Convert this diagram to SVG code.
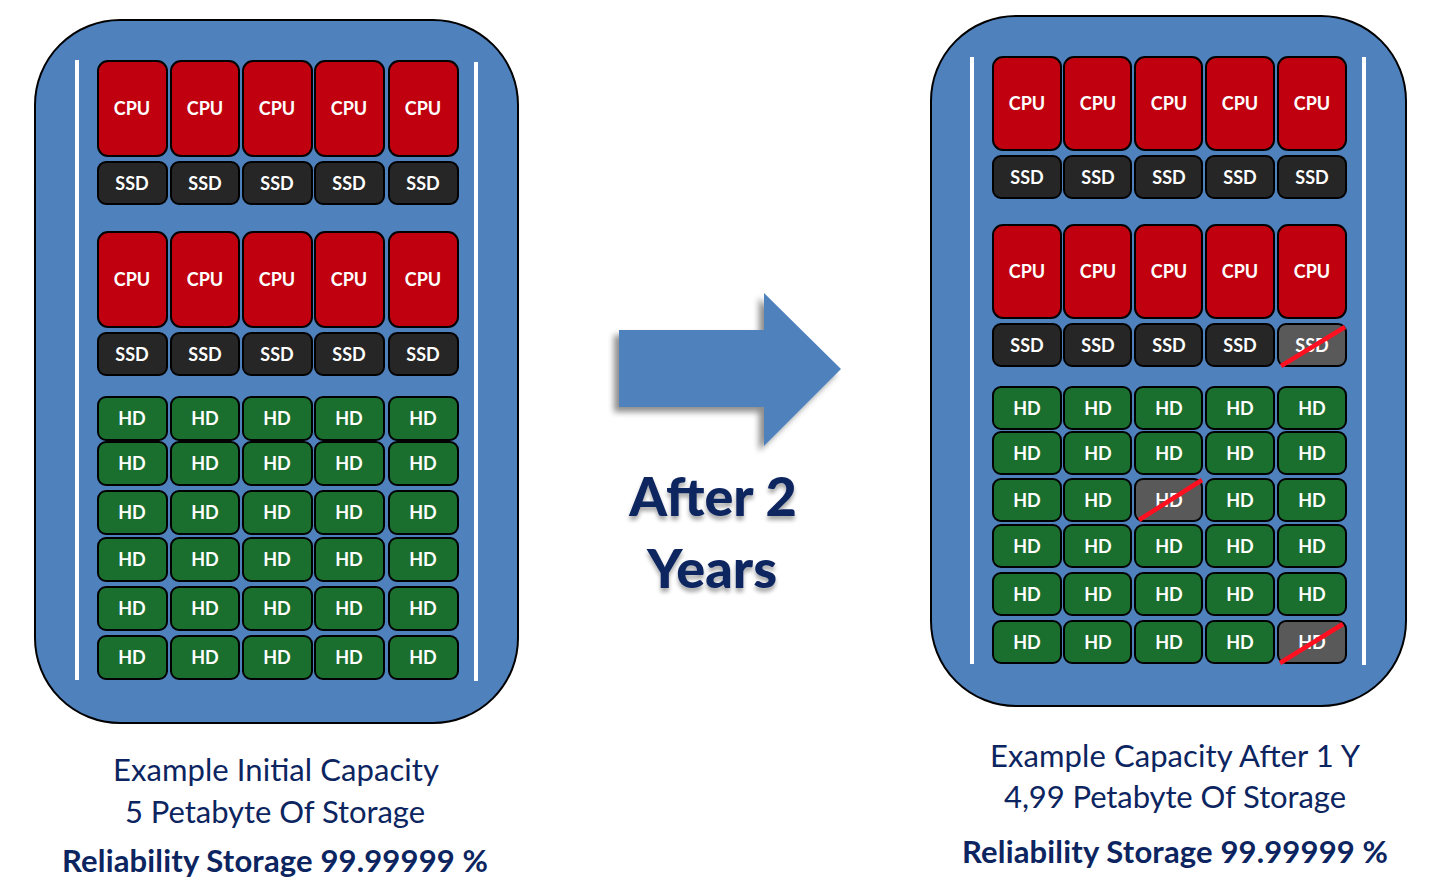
<svg xmlns="http://www.w3.org/2000/svg" width="1440" height="888" viewBox="0 0 1440 888">
<defs>
<style>
.panel{fill:#4F81BD;stroke:#000;stroke-width:2}
.rail{fill:#fff}
.cpu{fill:#C0000F;stroke:#000;stroke-width:2}
.ssd{fill:#262626;stroke:#000;stroke-width:2}
.hd{fill:#1B6F2E;stroke:#000;stroke-width:2}
.dead{fill:#595959;stroke:#000;stroke-width:2}
.x{stroke:#FF1020;stroke-width:4.5;stroke-linecap:butt}
.t{font-family:Lato,"Noto Sans",sans-serif;font-size:18px;font-weight:bold;fill:#fff;text-anchor:middle;dominant-baseline:central}
.cap{font-family:Lato,"Noto Sans",sans-serif;font-size:31px;fill:#0C2560;text-anchor:middle}
.capb{font-family:Lato,"Noto Sans",sans-serif;font-size:31px;font-weight:bold;fill:#0C2560;text-anchor:middle}
.big{font-family:Lato,"Noto Sans",sans-serif;font-size:54px;font-weight:900;fill:#0C2560;text-anchor:middle}
</style>
<filter id="sh" x="-20%" y="-20%" width="140%" height="140%">
<feGaussianBlur in="SourceAlpha" stdDeviation="3"/>
<feOffset dx="-5" dy="5" result="b"/>
<feComponentTransfer><feFuncA type="linear" slope="0.45"/></feComponentTransfer>
<feMerge><feMergeNode/><feMergeNode in="SourceGraphic"/></feMerge>
</filter>
<filter id="tsh" x="-20%" y="-20%" width="140%" height="150%">
<feGaussianBlur in="SourceAlpha" stdDeviation="2"/>
<feOffset dx="0" dy="4" result="b"/>
<feComponentTransfer><feFuncA type="linear" slope="0.35"/></feComponentTransfer>
<feMerge><feMergeNode/><feMergeNode in="SourceGraphic"/></feMerge>
</filter>
</defs>
<rect width="1440" height="888" fill="#fff"/>

<g id="left-rack">
<rect class="panel" x="35" y="20" width="483" height="703" rx="85" ry="85"/>
<rect class="rail" x="75" y="60" width="4" height="620"/>
<rect class="rail" x="474" y="62" width="4" height="619"/>
<g id="left-cpu1">
<rect class="cpu" x="98" y="61" width="69" height="95" rx="10"/><text class="t" x="132" y="108">CPU</text>
<rect class="cpu" x="171" y="61" width="68" height="95" rx="10"/><text class="t" x="205" y="108">CPU</text>
<rect class="cpu" x="243" y="61" width="69" height="95" rx="10"/><text class="t" x="277" y="108">CPU</text>
<rect class="cpu" x="315" y="61" width="69" height="95" rx="10"/><text class="t" x="349" y="108">CPU</text>
<rect class="cpu" x="389" y="61" width="69" height="95" rx="10"/><text class="t" x="423" y="108">CPU</text>
</g>
<g id="left-ssd1">
<rect class="ssd" x="98" y="162" width="69" height="42" rx="8"/><text class="t" x="132" y="183">SSD</text>
<rect class="ssd" x="171" y="162" width="68" height="42" rx="8"/><text class="t" x="205" y="183">SSD</text>
<rect class="ssd" x="243" y="162" width="69" height="42" rx="8"/><text class="t" x="277" y="183">SSD</text>
<rect class="ssd" x="315" y="162" width="69" height="42" rx="8"/><text class="t" x="349" y="183">SSD</text>
<rect class="ssd" x="389" y="162" width="69" height="42" rx="8"/><text class="t" x="423" y="183">SSD</text>
</g>
<g id="left-cpu2">
<rect class="cpu" x="98" y="232" width="69" height="95" rx="10"/><text class="t" x="132" y="279">CPU</text>
<rect class="cpu" x="171" y="232" width="68" height="95" rx="10"/><text class="t" x="205" y="279">CPU</text>
<rect class="cpu" x="243" y="232" width="69" height="95" rx="10"/><text class="t" x="277" y="279">CPU</text>
<rect class="cpu" x="315" y="232" width="69" height="95" rx="10"/><text class="t" x="349" y="279">CPU</text>
<rect class="cpu" x="389" y="232" width="69" height="95" rx="10"/><text class="t" x="423" y="279">CPU</text>
</g>
<g id="left-ssd2">
<rect class="ssd" x="98" y="333" width="69" height="42" rx="8"/><text class="t" x="132" y="354">SSD</text>
<rect class="ssd" x="171" y="333" width="68" height="42" rx="8"/><text class="t" x="205" y="354">SSD</text>
<rect class="ssd" x="243" y="333" width="69" height="42" rx="8"/><text class="t" x="277" y="354">SSD</text>
<rect class="ssd" x="315" y="333" width="69" height="42" rx="8"/><text class="t" x="349" y="354">SSD</text>
<rect class="ssd" x="389" y="333" width="69" height="42" rx="8"/><text class="t" x="423" y="354">SSD</text>
</g>
<g id="left-hd">
<rect class="hd" x="98" y="397" width="69" height="43" rx="8"/><text class="t" x="132" y="418">HD</text>
<rect class="hd" x="171" y="397" width="68" height="43" rx="8"/><text class="t" x="205" y="418">HD</text>
<rect class="hd" x="243" y="397" width="69" height="43" rx="8"/><text class="t" x="277" y="418">HD</text>
<rect class="hd" x="315" y="397" width="69" height="43" rx="8"/><text class="t" x="349" y="418">HD</text>
<rect class="hd" x="389" y="397" width="69" height="43" rx="8"/><text class="t" x="423" y="418">HD</text>

<rect class="hd" x="98" y="442" width="69" height="43" rx="8"/><text class="t" x="132" y="463">HD</text>
<rect class="hd" x="171" y="442" width="68" height="43" rx="8"/><text class="t" x="205" y="463">HD</text>
<rect class="hd" x="243" y="442" width="69" height="43" rx="8"/><text class="t" x="277" y="463">HD</text>
<rect class="hd" x="315" y="442" width="69" height="43" rx="8"/><text class="t" x="349" y="463">HD</text>
<rect class="hd" x="389" y="442" width="69" height="43" rx="8"/><text class="t" x="423" y="463">HD</text>

<rect class="hd" x="98" y="491" width="69" height="43" rx="8"/><text class="t" x="132" y="512">HD</text>
<rect class="hd" x="171" y="491" width="68" height="43" rx="8"/><text class="t" x="205" y="512">HD</text>
<rect class="hd" x="243" y="491" width="69" height="43" rx="8"/><text class="t" x="277" y="512">HD</text>
<rect class="hd" x="315" y="491" width="69" height="43" rx="8"/><text class="t" x="349" y="512">HD</text>
<rect class="hd" x="389" y="491" width="69" height="43" rx="8"/><text class="t" x="423" y="512">HD</text>

<rect class="hd" x="98" y="538" width="69" height="43" rx="8"/><text class="t" x="132" y="559">HD</text>
<rect class="hd" x="171" y="538" width="68" height="43" rx="8"/><text class="t" x="205" y="559">HD</text>
<rect class="hd" x="243" y="538" width="69" height="43" rx="8"/><text class="t" x="277" y="559">HD</text>
<rect class="hd" x="315" y="538" width="69" height="43" rx="8"/><text class="t" x="349" y="559">HD</text>
<rect class="hd" x="389" y="538" width="69" height="43" rx="8"/><text class="t" x="423" y="559">HD</text>

<rect class="hd" x="98" y="587" width="69" height="43" rx="8"/><text class="t" x="132" y="608">HD</text>
<rect class="hd" x="171" y="587" width="68" height="43" rx="8"/><text class="t" x="205" y="608">HD</text>
<rect class="hd" x="243" y="587" width="69" height="43" rx="8"/><text class="t" x="277" y="608">HD</text>
<rect class="hd" x="315" y="587" width="69" height="43" rx="8"/><text class="t" x="349" y="608">HD</text>
<rect class="hd" x="389" y="587" width="69" height="43" rx="8"/><text class="t" x="423" y="608">HD</text>

<rect class="hd" x="98" y="636" width="69" height="43" rx="8"/><text class="t" x="132" y="657">HD</text>
<rect class="hd" x="171" y="636" width="68" height="43" rx="8"/><text class="t" x="205" y="657">HD</text>
<rect class="hd" x="243" y="636" width="69" height="43" rx="8"/><text class="t" x="277" y="657">HD</text>
<rect class="hd" x="315" y="636" width="69" height="43" rx="8"/><text class="t" x="349" y="657">HD</text>
<rect class="hd" x="389" y="636" width="69" height="43" rx="8"/><text class="t" x="423" y="657">HD</text>
</g>
</g>

<g id="right-rack">
<rect class="panel" x="931" y="16" width="475" height="690" rx="85" ry="85"/>
<rect class="rail" x="970" y="57" width="4" height="607"/>
<rect class="rail" x="1362" y="57" width="4" height="608"/>
<g id="right-cpu1">
<rect class="cpu" x="993" y="57" width="68" height="93" rx="10"/><text class="t" x="1027" y="103">CPU</text>
<rect class="cpu" x="1064" y="57" width="67" height="93" rx="10"/><text class="t" x="1098" y="103">CPU</text>
<rect class="cpu" x="1135" y="57" width="67" height="93" rx="10"/><text class="t" x="1169" y="103">CPU</text>
<rect class="cpu" x="1206" y="57" width="68" height="93" rx="10"/><text class="t" x="1240" y="103">CPU</text>
<rect class="cpu" x="1278" y="57" width="68" height="93" rx="10"/><text class="t" x="1312" y="103">CPU</text>
</g>
<g id="right-ssd1">
<rect class="ssd" x="993" y="156" width="68" height="42" rx="8"/><text class="t" x="1027" y="177">SSD</text>
<rect class="ssd" x="1064" y="156" width="67" height="42" rx="8"/><text class="t" x="1098" y="177">SSD</text>
<rect class="ssd" x="1135" y="156" width="67" height="42" rx="8"/><text class="t" x="1169" y="177">SSD</text>
<rect class="ssd" x="1206" y="156" width="68" height="42" rx="8"/><text class="t" x="1240" y="177">SSD</text>
<rect class="ssd" x="1278" y="156" width="68" height="42" rx="8"/><text class="t" x="1312" y="177">SSD</text>
</g>
<g id="right-cpu2">
<rect class="cpu" x="993" y="225" width="68" height="93" rx="10"/><text class="t" x="1027" y="271">CPU</text>
<rect class="cpu" x="1064" y="225" width="67" height="93" rx="10"/><text class="t" x="1098" y="271">CPU</text>
<rect class="cpu" x="1135" y="225" width="67" height="93" rx="10"/><text class="t" x="1169" y="271">CPU</text>
<rect class="cpu" x="1206" y="225" width="68" height="93" rx="10"/><text class="t" x="1240" y="271">CPU</text>
<rect class="cpu" x="1278" y="225" width="68" height="93" rx="10"/><text class="t" x="1312" y="271">CPU</text>
</g>
<g id="right-ssd2">
<rect class="ssd" x="993" y="324" width="68" height="42" rx="8"/><text class="t" x="1027" y="345">SSD</text>
<rect class="ssd" x="1064" y="324" width="67" height="42" rx="8"/><text class="t" x="1098" y="345">SSD</text>
<rect class="ssd" x="1135" y="324" width="67" height="42" rx="8"/><text class="t" x="1169" y="345">SSD</text>
<rect class="ssd" x="1206" y="324" width="68" height="42" rx="8"/><text class="t" x="1240" y="345">SSD</text>
<rect class="dead" x="1278" y="324" width="68" height="42" rx="8"/><text class="t" x="1312" y="345">SSD</text>
<line class="x" x1="1281" y1="366" x2="1345" y2="327"/>
</g>
<g id="right-hd">
<rect class="hd" x="993" y="387" width="68" height="42" rx="8"/><text class="t" x="1027" y="408">HD</text>
<rect class="hd" x="1064" y="387" width="67" height="42" rx="8"/><text class="t" x="1098" y="408">HD</text>
<rect class="hd" x="1135" y="387" width="67" height="42" rx="8"/><text class="t" x="1169" y="408">HD</text>
<rect class="hd" x="1206" y="387" width="68" height="42" rx="8"/><text class="t" x="1240" y="408">HD</text>
<rect class="hd" x="1278" y="387" width="68" height="42" rx="8"/><text class="t" x="1312" y="408">HD</text>

<rect class="hd" x="993" y="432" width="68" height="42" rx="8"/><text class="t" x="1027" y="453">HD</text>
<rect class="hd" x="1064" y="432" width="67" height="42" rx="8"/><text class="t" x="1098" y="453">HD</text>
<rect class="hd" x="1135" y="432" width="67" height="42" rx="8"/><text class="t" x="1169" y="453">HD</text>
<rect class="hd" x="1206" y="432" width="68" height="42" rx="8"/><text class="t" x="1240" y="453">HD</text>
<rect class="hd" x="1278" y="432" width="68" height="42" rx="8"/><text class="t" x="1312" y="453">HD</text>

<rect class="hd" x="993" y="479" width="68" height="42" rx="8"/><text class="t" x="1027" y="500">HD</text>
<rect class="hd" x="1064" y="479" width="67" height="42" rx="8"/><text class="t" x="1098" y="500">HD</text>
<rect class="dead" x="1135" y="479" width="67" height="42" rx="8"/><text class="t" x="1169" y="500">HD</text>
<line class="x" x1="1139" y1="520" x2="1202" y2="480"/>
<rect class="hd" x="1206" y="479" width="68" height="42" rx="8"/><text class="t" x="1240" y="500">HD</text>
<rect class="hd" x="1278" y="479" width="68" height="42" rx="8"/><text class="t" x="1312" y="500">HD</text>

<rect class="hd" x="993" y="525" width="68" height="42" rx="8"/><text class="t" x="1027" y="546">HD</text>
<rect class="hd" x="1064" y="525" width="67" height="42" rx="8"/><text class="t" x="1098" y="546">HD</text>
<rect class="hd" x="1135" y="525" width="67" height="42" rx="8"/><text class="t" x="1169" y="546">HD</text>
<rect class="hd" x="1206" y="525" width="68" height="42" rx="8"/><text class="t" x="1240" y="546">HD</text>
<rect class="hd" x="1278" y="525" width="68" height="42" rx="8"/><text class="t" x="1312" y="546">HD</text>

<rect class="hd" x="993" y="573" width="68" height="42" rx="8"/><text class="t" x="1027" y="594">HD</text>
<rect class="hd" x="1064" y="573" width="67" height="42" rx="8"/><text class="t" x="1098" y="594">HD</text>
<rect class="hd" x="1135" y="573" width="67" height="42" rx="8"/><text class="t" x="1169" y="594">HD</text>
<rect class="hd" x="1206" y="573" width="68" height="42" rx="8"/><text class="t" x="1240" y="594">HD</text>
<rect class="hd" x="1278" y="573" width="68" height="42" rx="8"/><text class="t" x="1312" y="594">HD</text>

<rect class="hd" x="993" y="621" width="68" height="42" rx="8"/><text class="t" x="1027" y="642">HD</text>
<rect class="hd" x="1064" y="621" width="67" height="42" rx="8"/><text class="t" x="1098" y="642">HD</text>
<rect class="hd" x="1135" y="621" width="67" height="42" rx="8"/><text class="t" x="1169" y="642">HD</text>
<rect class="hd" x="1206" y="621" width="68" height="42" rx="8"/><text class="t" x="1240" y="642">HD</text>
<rect class="dead" x="1278" y="621" width="68" height="42" rx="8"/><text class="t" x="1312" y="642">HD</text>
<line class="x" x1="1280" y1="663" x2="1343" y2="624"/>
</g>
</g>

<g id="connectors">
<path d="M619,330 H764 V293 L841,369 L764,446 V407 H619 Z" fill="#4F81BD" filter="url(#sh)"/>
</g>

<g id="arrow-label" filter="url(#tsh)">
<text class="big" x="713" y="516">After 2</text>
<text class="big" x="712" y="588">Years</text>
</g>

<g id="left-caption">
<text class="cap" x="276" y="781" textLength="326">Example Initial Capacity</text>
<text class="cap" x="275" y="823" textLength="300">5 Petabyte Of Storage</text>
<text class="capb" x="275" y="872" textLength="426">Reliability Storage 99.99999 %</text>
</g>

<g id="right-caption">
<text class="cap" x="1175" y="767" textLength="370">Example Capacity After 1 Y</text>
<text class="cap" x="1175" y="808" textLength="342">4,99 Petabyte Of Storage</text>
<text class="capb" x="1175" y="863" textLength="426">Reliability Storage 99.99999 %</text>
</g>
</svg>
